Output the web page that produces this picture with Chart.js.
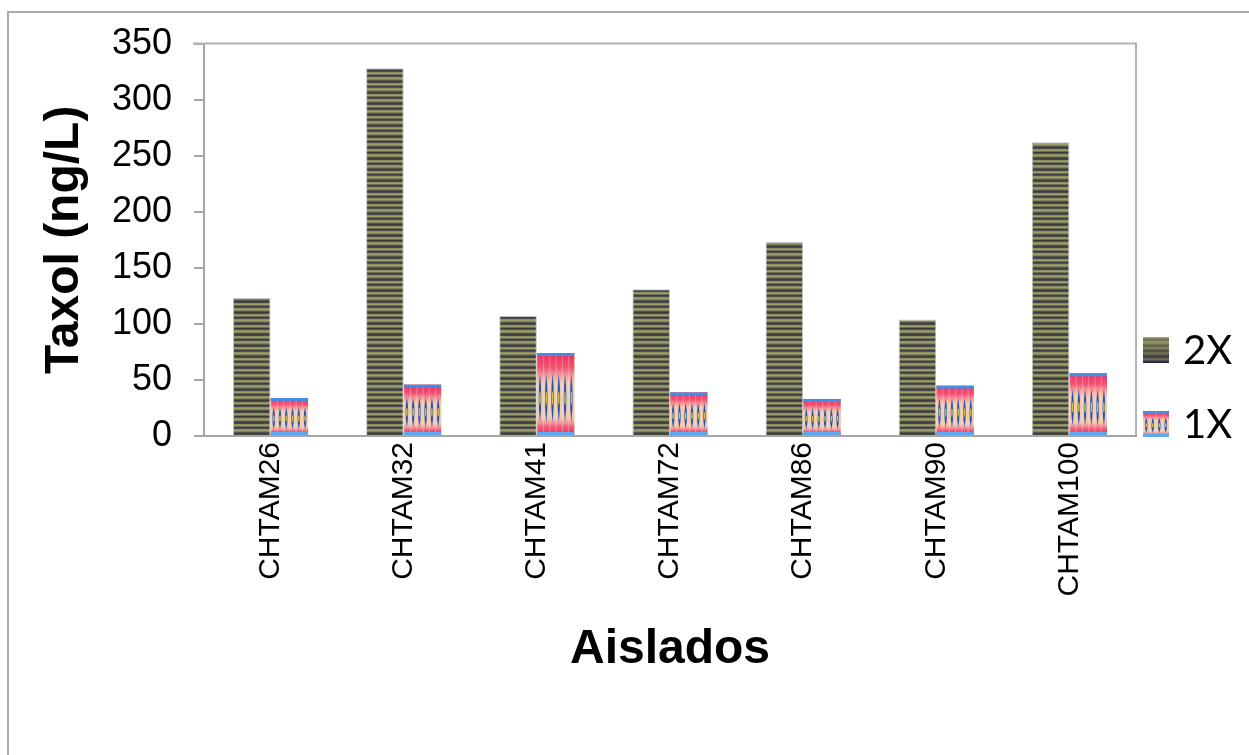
<!DOCTYPE html>
<html>
<head>
<meta charset="utf-8">
<script src="https://cdn.jsdelivr.net/npm/chart.js@4/dist/chart.umd.min.js"></script>
<style>
  html, body { margin: 0; padding: 0; background: #fff; overflow: hidden; }
  #wrap { position: relative; width: 1249px; height: 755px; }
  #frame { position: absolute; left: 7px; top: 11px; width: 1300px; height: 800px;
           border: 2px solid #ababab; pointer-events: none; }
  canvas { position: absolute; left: 0; top: 0; }
</style>
</head>
<body>
<div id="wrap">
  <canvas id="c" width="1249" height="755"></canvas>
  <div id="frame"></div>
</div>
<script>
// Taxol production per isolate, two culture conditions
const categories = ['CHTAM26', 'CHTAM32', 'CHTAM41', 'CHTAM72', 'CHTAM86', 'CHTAM90', 'CHTAM100'];
const seriesNames = ['2X', '1X'];
const values2X = [123, 328, 107, 131, 173, 104, 262];
const values1X = [34, 46, 74, 39, 33, 45, 56];
const yTicks = [0, 50, 100, 150, 200, 250, 300, 350];
const yTitle = 'Taxol (ng/L)';
const xTitle = 'Aislados';

const AXIS_GRAY = '#a6a6a6';

// Horizontal olive / charcoal stripes for the 2X bars
function stripePattern(ctx) {
  const c = document.createElement('canvas');
  c.width = 4; c.height = 11;
  const g = c.getContext('2d');
  const rows = ['#8e8e5f', '#9d9d6c', '#82825b', '#55554c', '#3b3b40', '#494949',
                '#8e8e5f', '#9d9d6c', '#6d6d55', '#3b3b40', '#4f4f4b'];
  rows.forEach((col, i) => { g.fillStyle = col; g.fillRect(0, i, 4, 1); });
  return ctx.createPattern(c, 'repeat');
}

// Decorative fill for the 1X bars: blue rims, red fades, blue diamonds
function drawMotif(ctx, x0, top, w, h) {
  if (h <= 0) return;
  ctx.save();
  ctx.beginPath();
  ctx.rect(x0, top, w, h);
  ctx.clip();
  ctx.fillStyle = '#f2cbb3';
  ctx.fillRect(x0, top, w, h);
  const g = ctx.createLinearGradient(0, top, 0, top + h);
  g.addColorStop(0.00, 'rgba(240,45,95,1)');
  g.addColorStop(0.18, 'rgba(242,70,110,0.9)');
  g.addColorStop(0.38, 'rgba(242,130,140,0)');
  g.addColorStop(0.78, 'rgba(242,130,140,0)');
  g.addColorStop(0.90, 'rgba(242,70,110,0.85)');
  g.addColorStop(1.00, 'rgba(240,45,95,1)');
  ctx.fillStyle = g;
  ctx.fillRect(x0, top, w, h);

  const n = Math.max(1, Math.round(w / 6.3));
  const step = w / n;
  const cy = top + h * 0.55;
  const dh = h * 0.3;
  for (let i = 0; i < n; i++) {
    const cx = x0 + step * (i + 0.5);
    // light column between motifs
    ctx.fillStyle = 'rgba(255,225,215,0.35)';
    ctx.fillRect(x0 + step * i, top, 1, h);
    ctx.beginPath();
    ctx.moveTo(cx, cy - dh);
    ctx.quadraticCurveTo(cx + step * 0.42, cy, cx, cy + dh);
    ctx.quadraticCurveTo(cx - step * 0.42, cy, cx, cy - dh);
    ctx.fillStyle = '#2a55a8';
    ctx.fill();
    ctx.beginPath();
    ctx.ellipse(cx, cy, Math.max(0.8, step * 0.1), dh * 0.28, 0, 0, Math.PI * 2);
    ctx.fillStyle = '#c9c24a';
    ctx.fill();
  }
  ctx.fillStyle = '#3f8fe6';
  ctx.fillRect(x0, top, w, 3);
  ctx.fillStyle = '#5aa8ef';
  ctx.fillRect(x0, top + h - 3, w, 3);
  ctx.restore();
}

const motifPlugin = {
  id: 'motif',
  afterDatasetsDraw(chart) {
    const meta = chart.getDatasetMeta(1);
    const ctx = chart.ctx;
    meta.data.forEach(bar => {
      const p = bar.getProps(['x', 'y', 'base', 'width'], true);
      drawMotif(ctx, p.x - p.width / 2, p.y, p.width, p.base - p.y);
    });
  }
};

// Top and right edges of the plot area
const plotFramePlugin = {
  id: 'plotFrame',
  beforeDatasetsDraw(chart) {
    const { ctx, chartArea: a } = chart;
    ctx.save();
    ctx.strokeStyle = '#b3b3b3';
    ctx.lineWidth = 2;
    ctx.beginPath();
    ctx.moveTo(a.left - 11, a.top);
    ctx.lineTo(a.right, a.top);
    ctx.lineTo(a.right, a.bottom);
    ctx.stroke();
    ctx.restore();
  }
};

// Legend on the right, drawn with the same fills as the bars
const sideLegendPlugin = {
  id: 'sideLegend',
  afterDraw(chart) {
    const ctx = chart.ctx;
    const boxX = 1143, box = 26, textX = 1183;
    const rows = [{ idx: 0, cy: 350 }, { idx: 1, cy: 424 }];
    ctx.save();
    rows.forEach(r => {
      const top = r.cy - box / 2;
      if (r.idx === 0) {
        const g = ctx.createLinearGradient(0, top, 0, top + box);
        g.addColorStop(0, '#a6a66a');
        g.addColorStop(0.35, '#7f7f58');
        g.addColorStop(0.7, '#3e3e3c');
        g.addColorStop(1, '#4a3f6a');
        ctx.fillStyle = g;
        ctx.fillRect(boxX, top, box, box);
        ctx.fillStyle = stripePattern(ctx);
        ctx.globalAlpha = 0.45;
        ctx.fillRect(boxX, top, box, box);
        ctx.globalAlpha = 1;
        ctx.fillStyle = '#2e2850';
        ctx.fillRect(boxX, top + box - 2, box, 2);
      } else {
        drawMotif(ctx, boxX, top, box, box);
      }
      ctx.fillStyle = '#000';
      ctx.font = '40px Lato, "Open Sans", sans-serif';
      ctx.textAlign = 'left';
      ctx.textBaseline = 'middle';
      ctx.fillText(chart.data.datasets[r.idx].label, textX, r.cy + 1);
    });
    ctx.restore();
  }
};

const canvas = document.getElementById('c');
const ctx = canvas.getContext('2d');

new Chart(ctx, {
  type: 'bar',
  data: {
    labels: categories,
    datasets: [
      {
        label: seriesNames[0],
        data: values2X,
        backgroundColor: stripePattern(ctx),
        borderColor: '#c4c4c4',
        borderWidth: { left: 1, right: 1, top: 1, bottom: 0 },
        borderSkipped: 'bottom'
      },
      {
        label: seriesNames[1],
        data: values1X,
        backgroundColor: '#f2cbb3',
        borderWidth: 0
      }
    ]
  },
  options: {
    responsive: false,
    animation: false,
    devicePixelRatio: 1,
    datasets: { bar: { categoryPercentage: 0.565, barPercentage: 1.0 } },
    layout: { padding: { top: 41, right: 113, left: 0, bottom: 0 } },
    plugins: {
      legend: { display: false },
      tooltip: { enabled: false }
    },
    scales: {
      x: {
        grid: { display: true, drawOnChartArea: false, drawTicks: false, tickLength: 0, color: AXIS_GRAY, lineWidth: 2 },
        border: { display: true, color: AXIS_GRAY, width: 2 },
        ticks: {
          color: '#000',
          font: { family: '"Liberation Sans", Arial, sans-serif', size: 30 },
          minRotation: 90, maxRotation: 90, padding: 6, autoSkip: false
        },
        title: {
          display: true, text: xTitle, color: '#000',
          font: { family: '"Liberation Sans", Arial, sans-serif', size: 48, weight: 'bold' },
          padding: { top: 0, bottom: 76 }
        },
        afterFit(scale) { scale.height = 319; }
      },
      y: {
        min: 0, max: 350,
        grid: { display: true, drawOnChartArea: false, drawTicks: true, tickLength: 10, color: AXIS_GRAY, lineWidth: 2 },
        border: { display: true, color: AXIS_GRAY, width: 2 },
        afterBuildTicks(scale) { scale.ticks = yTicks.map(v => ({ value: v })); },
        ticks: {
          color: '#000',
          font: { family: '"Liberation Sans", Arial, sans-serif', size: 36 },
          padding: 22
        },
        title: {
          display: true, text: yTitle, color: '#000',
          font: { family: '"Liberation Sans", Arial, sans-serif', size: 48, weight: 'bold' },
          padding: { top: 36, bottom: 0 }
        },
        afterFit(scale) { scale.width = 204; }
      }
    }
  },
  plugins: [plotFramePlugin, motifPlugin, sideLegendPlugin]
});
</script>
</body>
</html>
